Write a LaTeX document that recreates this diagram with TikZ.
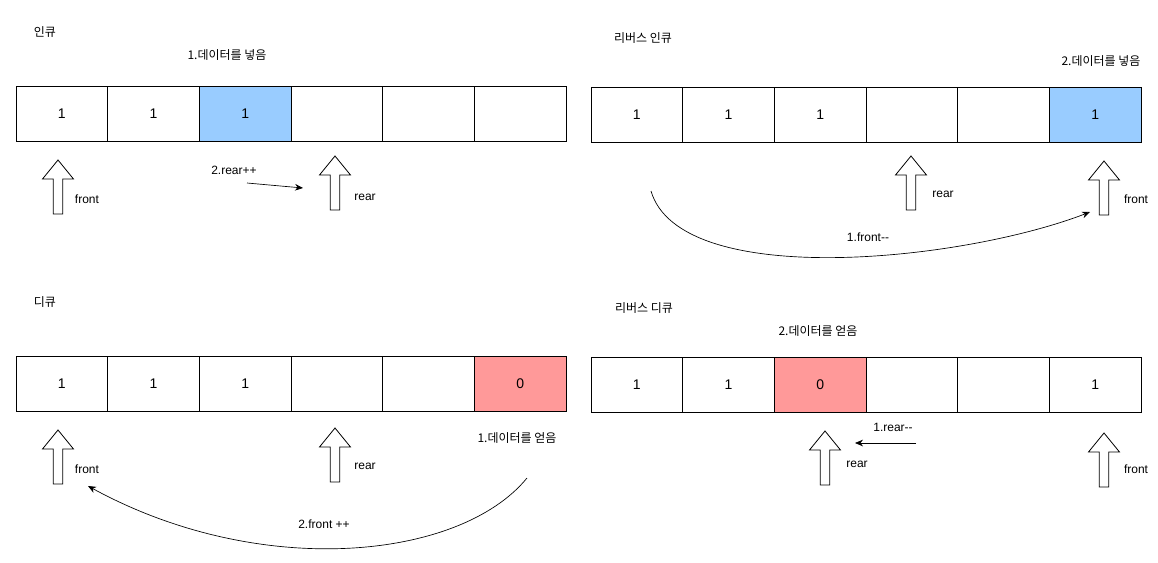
\documentclass[tikz,border=0pt]{standalone}
\usepackage{fontspec}
\setmainfont{Liberation Sans}
\newfontfamily\krfont{Noto Sans CJK KR}
\usetikzlibrary{arrows.meta}
\definecolor{qPut}{HTML}{99CCFF}
\definecolor{qGet}{HTML}{FF9999}

% hollow up-arrow used as a pointer: tip at (#1,#2)
\newcommand{\ptr}[2]{%
  \draw[ptrbody] (#1,#2) -- ++(15.5,19) -- ++(-10.8,0) -- ++(0,35) -- ++(-9.4,0)
    -- ++(0,-35) -- ++(-10.8,0) -- cycle;}

\begin{document}
\begin{tikzpicture}[x=0.75pt,y=-0.75pt,
  cell/.style={draw, minimum width=68.75pt, minimum height=41.25pt, inner sep=0pt,
    font=\fontsize{10.5}{12}\selectfont},
  ptrbody/.style={draw, fill=white, line width=0.6pt},
  lbl/.style={font=\fontsize{9}{11}\selectfont},
  krlbl/.style={font=\krfont\fontsize{9}{11}\selectfont},
  mv/.style={-{Stealth[length=6pt,width=5pt]}, line width=0.5pt}]
\useasboundingbox (0,0) rectangle (1158,562);

% enqueue
\node[krlbl] (t1) at (45,32) {인큐};
\node[krlbl] (s1) at (227,55) {1.데이터를 넣음};
\foreach \v/\c [count=\i] in {1/white,1/white,1/qPut,/white,/white,/white}
  \node[cell, fill=\c] (a\i) at ({16+(\i-0.5)*91.667},113.5) {\v};
\ptr{58}{160}
\node[lbl] (af) at (87,199) {front};
\ptr{335}{156}
\node[lbl] (ar) at (365,197) {rear};
\node[lbl] (am) at (234,170) {2.rear++};
\coordinate (am1) at (247,183);
\coordinate (am2) at (303,188);
\draw[mv] (am1) -- (am2);

% reverse enqueue
\node[krlbl] (t2) at (643,38) {리버스 인큐};
\node[krlbl] (s2) at (1101,61) {2.데이터를 넣음};
\foreach \v/\c [count=\i] in {1/white,1/white,1/white,/white,/white,1/qPut}
  \node[cell, fill=\c] (b\i) at ({591+(\i-0.5)*91.667},114.5) {\v};
\ptr{911}{156}
\node[lbl] (br) at (943,194) {rear};
\ptr{1104}{161}
\node[lbl] (bf) at (1136,199) {front};
\node[lbl] (bm) at (868,237) {1.front{-}{-}};
\coordinate (bm1) at (651,191);
\coordinate (bm2) at (1090,212);
\draw[mv] (bm1) .. controls (680,290) and (960,262) .. (bm2);

% dequeue
\node[krlbl] (t3) at (45,302) {디큐};
\foreach \v/\c [count=\i] in {1/white,1/white,1/white,/white,/white,0/qGet}
  \node[cell, fill=\c] (c\i) at ({16+(\i-0.5)*91.667},383.5) {\v};
\ptr{58}{430}
\node[lbl] (cf) at (87,469) {front};
\ptr{335}{428}
\node[lbl] (cr) at (365,466) {rear};
\node[krlbl] (s3) at (517,438) {1.데이터를 얻음};
\node[lbl] (cm) at (324,524) {2.front ++};
\coordinate (cm1) at (527,478);
\coordinate (cm2) at (88,486);
\draw[mv] (cm1) .. controls (460,560) and (260,580) .. (cm2);

% reverse dequeue
\node[krlbl] (t4) at (644,308) {리버스 디큐};
\node[krlbl] (s4) at (818,331) {2.데이터를 얻음};
\foreach \v/\c [count=\i] in {1/white,1/white,0/qGet,/white,/white,1/white}
  \node[cell, fill=\c] (d\i) at ({591+(\i-0.5)*91.667},384.5) {\v};
\ptr{825}{431}
\node[lbl] (dr) at (857,464) {rear};
\ptr{1104}{433}
\node[lbl] (df) at (1136,469) {front};
\node[lbl] (dm) at (893,427) {1.rear{-}{-}};
\coordinate (dm1) at (916,443);
\coordinate (dm2) at (855,443);
\draw[mv] (dm1) -- (dm2);
\end{tikzpicture}
\end{document}
